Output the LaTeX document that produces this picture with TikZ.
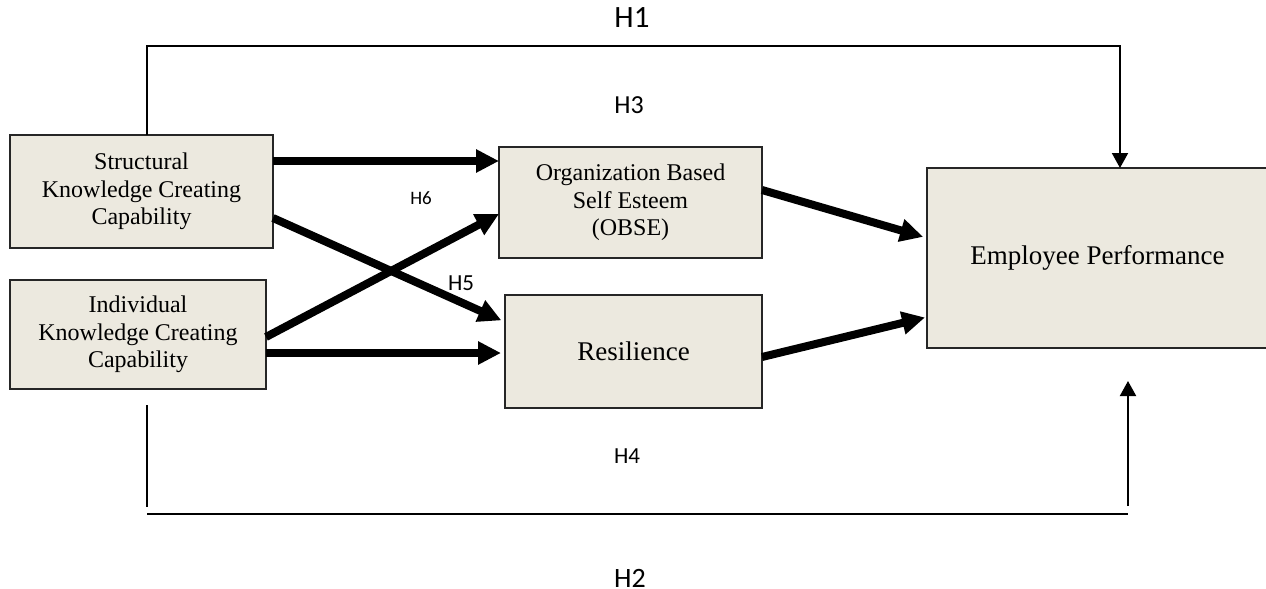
\documentclass[tikz,border=0pt]{standalone}
\usepackage{fontspec}
\setmainfont{Liberation Serif}
\newfontfamily\hypfont{Carlito}
\usepackage{xcolor}
\usetikzlibrary{arrows.meta,positioning}
\definecolor{boxfill}{RGB}{236,233,223}

\begin{document}
\begin{tikzpicture}[
  x=0.5pt, y=-0.5pt,
  box/.style ={draw=black!85, line width=1pt, fill=boxfill, align=center, inner sep=0pt, outer sep=0pt,
               font=\fontsize{12}{13.8}\selectfont},
  bigbox/.style={box, font=\fontsize{13.5}{16}\selectfont},
  fat/.style ={-{Triangle[length=11.5pt,width=11pt]}, line width=4pt},
  arr/.style ={-{Triangle[length=7.5pt,width=8pt]}, line width=1pt},
  rule/.style={line width=1pt},
  hyp/.style ={font=\hypfont\fontsize{#1}{#1}\selectfont, inner sep=0pt}
]
\useasboundingbox (0,0) rectangle (1266,589);
\node[box, minimum width=131.5pt, minimum height=56.5pt] (skc) at (141.5,191.5)
  {Structural\\Knowledge Creating\\Capability};
\node[box, minimum width=128pt, minimum height=54.5pt, below=16pt of skc.south west, anchor=north west] (ikc)
  {Individual\\Knowledge Creating\\Capability};
\node[box, minimum width=131.5pt, minimum height=55.5pt] (obse) at (630.5,202.5)
  {Organization Based\\Self Esteem\\(OBSE)};
\node[bigbox, minimum width=128.5pt, minimum height=56.5pt] (res) at (633.5,351.5) {Resilience};
\node[bigbox, minimum width=170.5pt, minimum height=90pt] (ep) at (1097.5,258) {Employee Performance};
\draw[fat] ([yshift=15.25pt]skc.east) -- ([yshift=20.75pt]obse.west);
\draw[fat, shorten >=2pt] ([yshift=-13.25pt]skc.east) -- ([yshift=14.75pt]res.west);
\draw[fat] ([yshift=-1.25pt]ikc.east) -- ([yshift=-5.75pt]obse.west);
\draw[fat, shorten >=2pt] ([yshift=-9.25pt]ikc.east) -- ([yshift=-0.75pt]res.west);
\draw[fat, shorten >=2pt] ([yshift=6.25pt]obse.east) -- ([yshift=10pt]ep.west);
\draw[fat, shorten >=1pt] ([yshift=-2.75pt]res.east) -- ([yshift=-29.5pt]ep.west);
% direct paths H1 and H2
\draw[arr] ([xshift=2.75pt]skc.north) -- ++(0,-89) -| ([xshift=11.25pt]ep.north);
\draw[rule] ([xshift=4.5pt,yshift=-8pt]ikc.south) -- ++(0,102);
\coordinate (h2l) at (147,514);
\coordinate (h2r) at (1128,514);
\draw[rule] (h2l) -- (h2r);
\draw[arr] ([yshift=4pt]h2r) -- ([xshift=15.25pt,yshift=-16.5pt]ep.south);
\node[hyp=15.5] (h1) at (632,18)  {H1};
\node[hyp=13]   (h3) at (629,105) {H3};
\node[hyp=9.5]  (h6) at (421,198) {H6};
\node[hyp=11.5] (h5) at (461,283) {H5};
\node[hyp=11.5] (h4) at (627,456) {H4};
\node[hyp=14]   (h2) at (630,578) {H2};
\end{tikzpicture}
\end{document}
